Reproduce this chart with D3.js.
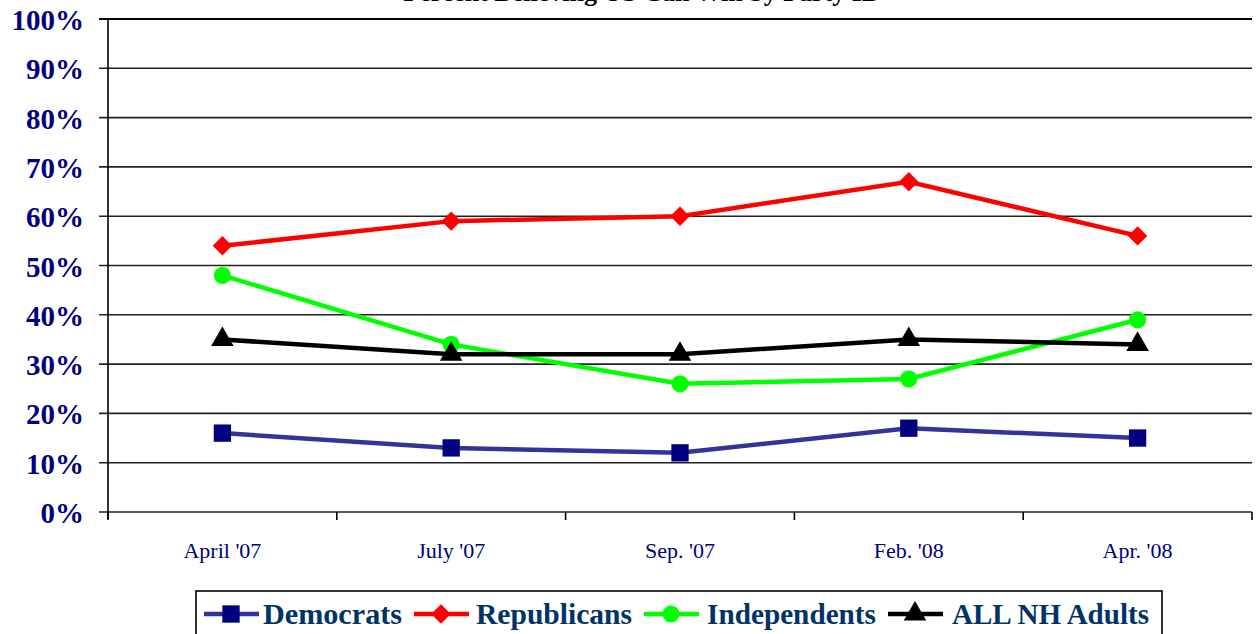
<!DOCTYPE html>
<html lang="en">
<head>
    <meta charset="UTF-8">
    <title>Percent Believing US Can Win by Party ID</title>
    <script src="https://d3js.org/d3.v7.min.js"></script>
    <style>
        body {
            margin: 0;
            padding: 0;
            background: #fff;
        }
        svg {
            display: block;
        }
    </style>
</head>
<body>
<svg id="chart" width="1256" height="634"></svg>

<script>
    // Data
    var categories = ["April '07", "July '07", "Sep. '07", "Feb. '08", "Apr. '08"];
    var democrats = [16, 13, 12, 17, 15];
    var republicans = [54, 59, 60, 67, 56];
    var independents = [48, 34, 26, 27, 39];
    var allAdults = [35, 32, 32, 35, 34];
    var yTicks = [0, 10, 20, 30, 40, 50, 60, 70, 80, 90, 100];

    var series = [
        { name: "Democrats", values: democrats, line: "#333399", fill: "#000080", shape: d3.symbolSquare, size: 300 },
        { name: "Republicans", values: republicans, line: "#ff0000", fill: "#ff0000", shape: d3.symbolDiamond2, size: 240 },
        { name: "Independents", values: independents, line: "#00ff00", fill: "#00ff00", shape: d3.symbolCircle, size: 230 },
        { name: "ALL NH Adults", values: allAdults, line: "#000000", fill: "#000000", shape: d3.symbolTriangle, size: 220 }
    ];

    var svg = d3.select("#chart");
    var plotLeft = 108, plotRight = 1252, plotTop = 19, plotBottom = 512;

    var x = d3.scaleBand().domain(categories).range([plotLeft, plotRight]).padding(0);
    var y = d3.scaleLinear().domain([0, 100]).range([plotBottom, plotTop]);
    var cx = function(c) { return x(c) + x.bandwidth() / 2; };

    // title (mostly cut off at the top)
    svg.append("text")
        .attr("x", 642).attr("y", 1)
        .attr("text-anchor", "middle")
        .style("font-family", "'Liberation Serif', serif")
        .style("font-weight", "bold")
        .style("font-size", "26px")
        .text("Percent Believing US Can Win by Party ID");

    // gridlines
    svg.append("g").selectAll("line")
        .data(yTicks)
        .enter().append("line")
        .attr("x1", plotLeft - 9).attr("x2", plotRight)
        .attr("y1", function(d) { return y(d); })
        .attr("y2", function(d) { return y(d); })
        .attr("stroke", function(d) { return d === 100 ? "#000" : "#222"; })
        .attr("stroke-width", function(d) { return d === 100 ? 2 : 1.6; });

    // y axis line
    svg.append("line")
        .attr("x1", plotLeft).attr("x2", plotLeft)
        .attr("y1", plotTop).attr("y2", plotBottom + 7)
        .attr("stroke", "#000").attr("stroke-width", 1.6);

    // x ticks at band edges
    var edges = categories.map(function(c) { return x(c); }).concat([plotRight]);
    svg.append("g").selectAll("line")
        .data(edges)
        .enter().append("line")
        .attr("x1", function(d) { return d; })
        .attr("x2", function(d) { return d; })
        .attr("y1", plotBottom).attr("y2", plotBottom + 8)
        .attr("stroke", "#000").attr("stroke-width", 1.6);

    // y labels
    svg.append("g").selectAll("text")
        .data(yTicks)
        .enter().append("text")
        .attr("x", 84)
        .attr("y", function(d) { return y(d) + 11; })
        .attr("text-anchor", "end")
        .style("font-family", "'Liberation Serif', serif")
        .style("font-weight", "bold")
        .style("font-size", "29px")
        .style("fill", "#000080")
        .text(function(d) { return d + "%"; });

    // x labels
    svg.append("g").selectAll("text")
        .data(categories)
        .enter().append("text")
        .attr("x", cx)
        .attr("y", 558)
        .attr("text-anchor", "middle")
        .style("font-family", "'Liberation Serif', serif")
        .style("font-size", "22px")
        .style("fill", "#000080")
        .text(function(d) { return d; });

    // lines + markers
    var line = d3.line()
        .x(function(d, i) { return cx(categories[i]); })
        .y(function(d) { return y(d); });

    series.forEach(function(s) {
        svg.append("path")
            .datum(s.values)
            .attr("d", line)
            .attr("fill", "none")
            .attr("stroke", s.line)
            .attr("stroke-width", 4.5);

        svg.append("g").selectAll("path")
            .data(s.values)
            .enter().append("path")
            .attr("d", d3.symbol().type(s.shape).size(s.size))
            .attr("transform", function(d, i) {
                return "translate(" + cx(categories[i]) + "," + y(d) + ")";
            })
            .attr("fill", s.fill);
    });

    // legend
    var legend = svg.append("g");
    legend.append("rect")
        .attr("x", 196).attr("y", 591)
        .attr("width", 966).attr("height", 60)
        .attr("fill", "#fff")
        .attr("stroke", "#000").attr("stroke-width", 1.6);

    var legendItems = [
        { lx: 204, tx: 263, tw: 139 },
        { lx: 414, tx: 476, tw: 156 },
        { lx: 644, tx: 707, tw: 169 },
        { lx: 888, tx: 952, tw: 197 }
    ];

    legendItems.forEach(function(p, i) {
        var s = series[i];
        legend.append("line")
            .attr("x1", p.lx).attr("x2", p.lx + 55)
            .attr("y1", 614).attr("y2", 614)
            .attr("stroke", s.line).attr("stroke-width", 4.5);
        legend.append("path")
            .attr("d", d3.symbol().type(s.shape).size(s.size))
            .attr("transform", "translate(" + (p.lx + 27) + ",614)")
            .attr("fill", s.fill);
        legend.append("text")
            .attr("x", p.tx).attr("y", 624)
            .attr("textLength", p.tw)
            .attr("lengthAdjust", "spacingAndGlyphs")
            .style("font-family", "'Liberation Serif', serif")
            .style("font-weight", "bold")
            .style("font-size", "29px")
            .style("fill", "#003366")
            .text(s.name);
    });
</script>
</body>
</html>
